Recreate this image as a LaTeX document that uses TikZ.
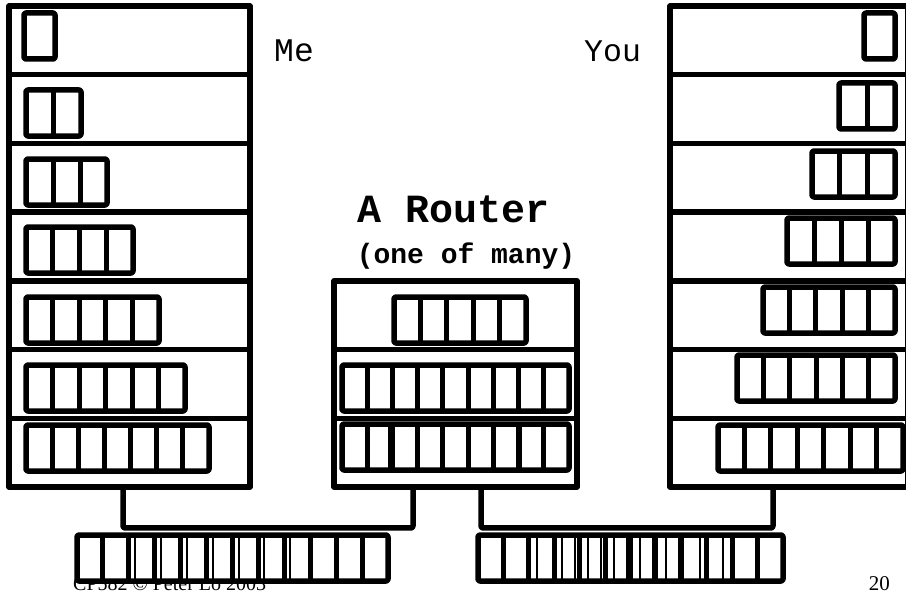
\documentclass[tikz,border=0pt]{standalone}
\usepackage{fontspec}
\setmainfont{Liberation Serif}
\setmonofont{Liberation Mono}
\usepackage{xcolor}

% packet: x, top y, number of cells, width
\newcommand{\pacote}[4]{%
  \draw[pacote] (#1,#2) rectangle ++(#4,46);
  \ifnum#3>1
    \foreach \k in {2,...,#3}
      \draw[divisoria] ({#1+(\k-1)*#4/#3},#2) -- ++(0,46);
  \fi
}
% thin marks of a second packet laid over the first
\newcommand{\riscos}[2]{%
  \foreach \t in {#2}
    \draw[risco] (\t,#1) -- ++(0,46);
}

\begin{document}
\begin{tikzpicture}[
    x=1pt, y=-1pt,
    camada/.style={
        draw=black,
        line width=5.5pt,
        line join=round,
        minimum width=241pt,
        minimum height=68.7pt,
        inner sep=0pt,
        outer sep=0pt
    },
    camadaYou/.style={camada, minimum width=237.5pt},
    camadaRt/.style={camada, minimum width=243pt},
    pacote/.style={
        draw=black,
        fill=white,
        line width=5.5pt,
        rounded corners=2pt,
        line join=round
    },
    divisoria/.style={draw=black, line width=5pt},
    risco/.style={draw=black, line width=1.6pt},
    fio/.style={
        draw=black,
        line width=5.5pt,
        line join=round,
        rounded corners=2pt
    },
    rotulo/.style={
        inner sep=0pt,
        anchor=base west
    }
]

\useasboundingbox (0,0) rectangle (906,594);

% =================================================
% ME
% =================================================

\node[camada] (me1) at (129.5,40.4) {};
\node[camada] (me2) at (129.5,109.1) {};
\node[camada] (me3) at (129.5,177.8) {};
\node[camada] (me4) at (129.5,246.5) {};
\node[camada] (me5) at (129.5,315.2) {};
\node[camada] (me6) at (129.5,383.9) {};
\node[camada] (me7) at (129.5,452.6) {};

\node[rotulo, font=\ttfamily\fontsize{33}{38}\selectfont] (eu) at (274,62) {Me};

% =================================================
% YOU
% =================================================

\node[camadaYou] (you1) at (788.75,40.4) {};
\node[camadaYou] (you2) at (788.75,109.1) {};
\node[camadaYou] (you3) at (788.75,177.8) {};
\node[camadaYou] (you4) at (788.75,246.5) {};
\node[camadaYou] (you5) at (788.75,315.2) {};
\node[camadaYou] (you6) at (788.75,383.9) {};
\node[camadaYou] (you7) at (788.75,452.6) {};

\node[rotulo, font=\ttfamily\fontsize{31.5}{38}\selectfont] (voce) at (584,62) {You};

% =================================================
% ROUTER
% =================================================

\node[camadaRt] (rt5) at (455.5,315.2) {};
\node[camadaRt] (rt6) at (455.5,383.9) {};
\node[camadaRt] (rt7) at (455.5,452.6) {};

\node[
    font=\ttfamily\bfseries\fontsize{40}{46}\selectfont,
    inner sep=0pt, anchor=base
] (titulo) at (454,222)
{A Router};

\node[
    font=\ttfamily\bfseries\fontsize{28}{33}\selectfont,
    inner sep=0pt, anchor=base
] (subtitulo) at (466,263)
{(one of many)};

% =================================================
% FOOTER
% =================================================

\node[font=\fontsize{20}{24}\selectfont, inner sep=0pt, anchor=base west]
(rodape) at (73,590) {CP582 \textcopyright{} Peter Lo 2003};

\node[font=\fontsize{21}{24}\selectfont, inner sep=0pt, anchor=base east]
(pagina) at (890,590) {20};

% =================================================
% WIRES
% =================================================

\coordinate (pe1) at ([xshift=-6.5pt]me7.south);
\coordinate (pe2) at ([xshift=-42.5pt]rt7.south);
\coordinate (pe3) at ([xshift=25.5pt]rt7.south);
\coordinate (pe4) at ([xshift=-15.75pt]you7.south);

\draw[fio] (pe1) -- ++(0,41) -| (pe2);
\draw[fio] (pe3) -- ++(0,41) -| (pe4);

% =================================================
% PACKETS
% =================================================

\pacote{24}{13}{1}{31}
\pacote{26}{90}{2}{55}
\pacote{26}{159}{3}{81}
\pacote{26}{227}{4}{107}
\pacote{26}{297}{5}{133}
\pacote{26}{365}{6}{159}
\pacote{26}{425}{7}{183}

\pacote{864}{13}{1}{31}
\pacote{839}{83}{2}{56}
\pacote{812}{151}{3}{83}
\pacote{787}{218}{4}{108}
\pacote{763}{287}{5}{132}
\pacote{737}{355}{6}{158}
\pacote{718}{425}{7}{185}

\pacote{394}{297}{5}{132}
\pacote{342}{365}{9}{227}
\riscos{365}{418,443,469,495}
\pacote{342}{424}{9}{227}
\riscos{424}{389,416,443,468,494,521}

\pacote{77}{535}{12}{311}
\riscos{535}{135,161,187,213,239,264,290}
\pacote{478}{535}{12}{305}
\riscos{535}{537,562,575,588,601,614,627,640,653,666,679,700,723}

\end{tikzpicture}
\end{document}
